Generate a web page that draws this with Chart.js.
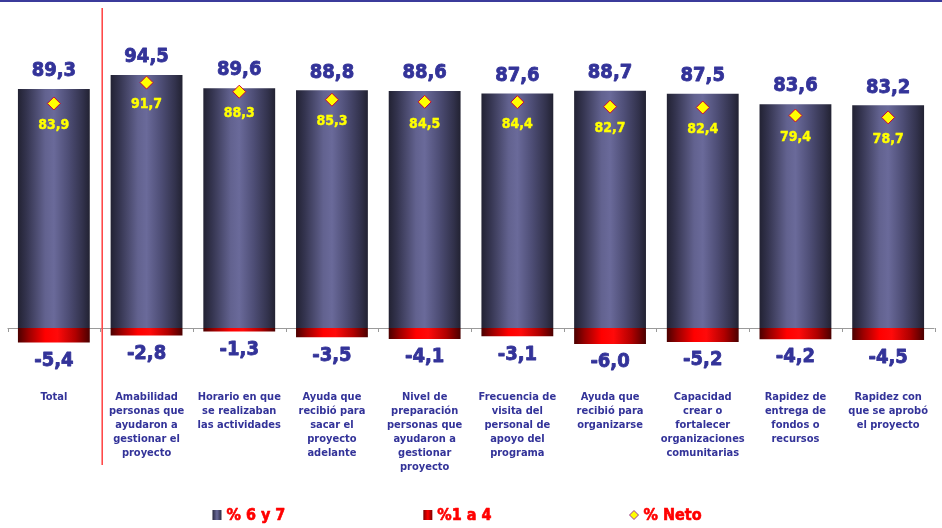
<!DOCTYPE html>
<html><head><meta charset="utf-8">
<script src="https://cdn.jsdelivr.net/npm/chart.js@4/dist/chart.umd.min.js"></script>
<style>html,body{margin:0;padding:0;background:#fff;}canvas{display:block;}</style>
</head><body>
<canvas id="c" width="942" height="528"></canvas>
<script>
const categories = [
  ["Total"],
  ["Amabilidad","personas que","ayudaron a","gestionar el","proyecto"],
  ["Horario en que","se realizaban","las actividades"],
  ["Ayuda que","recibió para","sacar el","proyecto","adelante"],
  ["Nivel de","preparación","personas que","ayudaron a","gestionar","proyecto"],
  ["Frecuencia de","visita del","personal de","apoyo del","programa"],
  ["Ayuda que","recibió para","organizarse"],
  ["Capacidad","crear o","fortalecer","organizaciones","comunitarias"],
  ["Rapidez de","entrega de","fondos o","recursos"],
  ["Rapidez con","que se aprobó","el proyecto"]
];
const seriesNames = ["% 6 y 7", "%1 a 4", "% Neto"];
const pct6y7 = [89.3, 94.5, 89.6, 88.8, 88.6, 87.6, 88.7, 87.5, 83.6, 83.2];
const pct1a4 = [-5.4, -2.8, -1.3, -3.5, -4.1, -3.1, -6.0, -5.2, -4.2, -4.5];
const pctNeto = [83.9, 91.7, 88.3, 85.3, 84.5, 84.4, 82.7, 82.4, 79.4, 78.7];

const FAM = "'DejaVu Sans Condensed', 'DejaVu Sans', sans-serif";
const NAVY = '#333399';
const BAR_PCT = 0.775;

function fmt(v){ return v.toFixed(1).replace('.', ','); }

function grad(ctx, stops){
  const chart = ctx.chart;
  const xs = chart.scales && chart.scales.x;
  if (!xs || !chart.chartArea || ctx.dataIndex === undefined) return stops[2][1];
  const cx = xs.getPixelForValue(ctx.dataIndex);
  const w = xs.width / categories.length * BAR_PCT;
  const g = chart.ctx.createLinearGradient(cx - w/2, 0, cx + w/2, 0);
  stops.forEach(s => g.addColorStop(s[0], s[1]));
  return g;
}
const navyStops = [[0,'#222233'],[0.12,'#34344f'],[0.38,'#62628f'],[0.5,'#6a6a9a'],[0.7,'#4e4e76'],[0.9,'#32324c'],[1,'#222232']];
const redStops = [[0,'#4a0000'],[0.15,'#9a0000'],[0.38,'#ff0000'],[0.55,'#ff0a0a'],[0.8,'#b00000'],[1,'#4a0000']];

function boldText(ctx, t, x, y, w){
  ctx.lineWidth = w;
  ctx.lineJoin = 'round';
  ctx.strokeStyle = ctx.fillStyle;
  ctx.strokeText(t, x, y);
  ctx.fillText(t, x, y);
}

const decor = {
  id: 'decor',
  beforeDatasetsDraw(chart){
    const {ctx, chartArea, scales:{x, y}} = chart;
    const y0 = y.getPixelForValue(0);
    const w = x.width / categories.length;
    ctx.save();
    ctx.strokeStyle = '#9a9a9a';
    ctx.lineWidth = 1;
    ctx.beginPath();
    ctx.moveTo(chartArea.left, y0 + 0.5);
    ctx.lineTo(chartArea.right, y0 + 0.5);
    for (let i = 0; i <= categories.length; i++) {
      const xx = Math.round(x.left + i * w) + 0.5;
      ctx.moveTo(xx, y0);
      ctx.lineTo(xx, y0 + 4);
    }
    ctx.stroke();
    ctx.restore();
  },
  afterDatasetsDraw(chart){
    const {ctx, scales:{x}} = chart;
    const w = x.width / categories.length;
    ctx.save();
    const sx = x.getPixelForValue(0) + w/2 + 2;
    ctx.strokeStyle = '#ff4040';
    ctx.lineWidth = 1.5;
    ctx.beginPath();
    ctx.moveTo(sx, 8);
    ctx.lineTo(sx, 465);
    ctx.stroke();
    ctx.fillStyle = '#3b3b9b';
    ctx.fillRect(0, 0, chart.width, 2);
    ctx.textAlign = 'center';
    ctx.textBaseline = 'middle';
    const m0 = chart.getDatasetMeta(0), m1 = chart.getDatasetMeta(1), m2 = chart.getDatasetMeta(2);
    ctx.font = 'bold 20px ' + FAM;
    ctx.fillStyle = NAVY;
    m0.data.forEach((el, i) => boldText(ctx, fmt(pct6y7[i]), el.x, el.y - 18, 0.8));
    m1.data.forEach((el, i) => boldText(ctx, fmt(pct1a4[i]), el.x, el.y + 18, 0.8));
    ctx.font = 'bold 14px ' + FAM;
    ctx.fillStyle = '#ffff00';
    m2.data.forEach((el, i) => boldText(ctx, fmt(pctNeto[i]), el.x, el.y + 22, 0.4));
    const ly = 515;
    const gap = 138;
    ctx.font = 'bold 16px ' + FAM;
    const items = seriesNames.map((t, i) => ({t, tw: ctx.measureText(t).width, i}));
    const widths = items.map(it => 9 + 5 + it.tw);
    const total = widths.reduce((a,b)=>a+b,0) + gap*(items.length-1);
    let lx = 457 - total/2;
    items.forEach((it, k) => {
      if (it.i === 0) {
        const g = ctx.createLinearGradient(lx, 0, lx+9, 0);
        g.addColorStop(0,'#2a2a40'); g.addColorStop(0.5,'#6a6a9a'); g.addColorStop(1,'#2a2a40');
        ctx.fillStyle = g; ctx.fillRect(lx, ly-5, 9, 10);
      } else if (it.i === 1) {
        const g = ctx.createLinearGradient(lx, 0, lx+9, 0);
        g.addColorStop(0,'#7a0000'); g.addColorStop(0.5,'#ff0000'); g.addColorStop(1,'#7a0000');
        ctx.fillStyle = g; ctx.fillRect(lx, ly-5, 9, 10);
      } else {
        ctx.beginPath();
        ctx.moveTo(lx, ly); ctx.lineTo(lx+4.5, ly-4.5); ctx.lineTo(lx+9, ly); ctx.lineTo(lx+4.5, ly+4.5); ctx.closePath();
        ctx.fillStyle = '#ffff00'; ctx.fill();
        ctx.strokeStyle = '#993399'; ctx.lineWidth = 1; ctx.stroke();
      }
      ctx.fillStyle = '#ff0000';
      ctx.textAlign = 'left';
      boldText(ctx, it.t, lx + 14, ly + 1, 0.6);
      lx += widths[k] + gap;
    });
    ctx.restore();
  }
};

new Chart(document.getElementById('c'), {
  data: {
    labels: categories,
    datasets: [
      { type: 'bar', label: seriesNames[0], data: pct6y7, stack: 's', order: 2,
        backgroundColor: c => grad(c, navyStops), borderWidth: 0,
        barPercentage: BAR_PCT, categoryPercentage: 1 },
      { type: 'bar', label: seriesNames[1], data: pct1a4, stack: 's', order: 2,
        backgroundColor: c => grad(c, redStops), borderWidth: 0,
        barPercentage: BAR_PCT, categoryPercentage: 1 },
      { type: 'line', label: seriesNames[2], data: pctNeto, order: 0, showLine: false,
        pointStyle: 'rectRot', pointRadius: 6.5, pointHoverRadius: 6.5,
        pointBackgroundColor: '#ffff00', pointBorderColor: '#cc0033', pointBorderWidth: 1 }
    ]
  },
  options: {
    responsive: false,
    animation: false,
    layout: { padding: { top: 10, left: 5.5, right: 6.5, bottom: 40 } },
    plugins: { legend: { display: false }, tooltip: { enabled: false } },
    scales: {
      x: {
        stacked: true,
        grid: { display: false, drawTicks: false },
        border: { display: false },
        ticks: { padding: 10, color: NAVY, maxRotation: 0, autoSkip: false,
          font: { family: FAM, size: 11, weight: 'bold', lineHeight: 14/11 } },
        afterFit(s) { s.height = 108; }
      },
      y: {
        stacked: true,
        display: false,
        min: -19.43,
        max: 118.83
      }
    }
  },
  plugins: [decor]
});
</script>
</body></html>
